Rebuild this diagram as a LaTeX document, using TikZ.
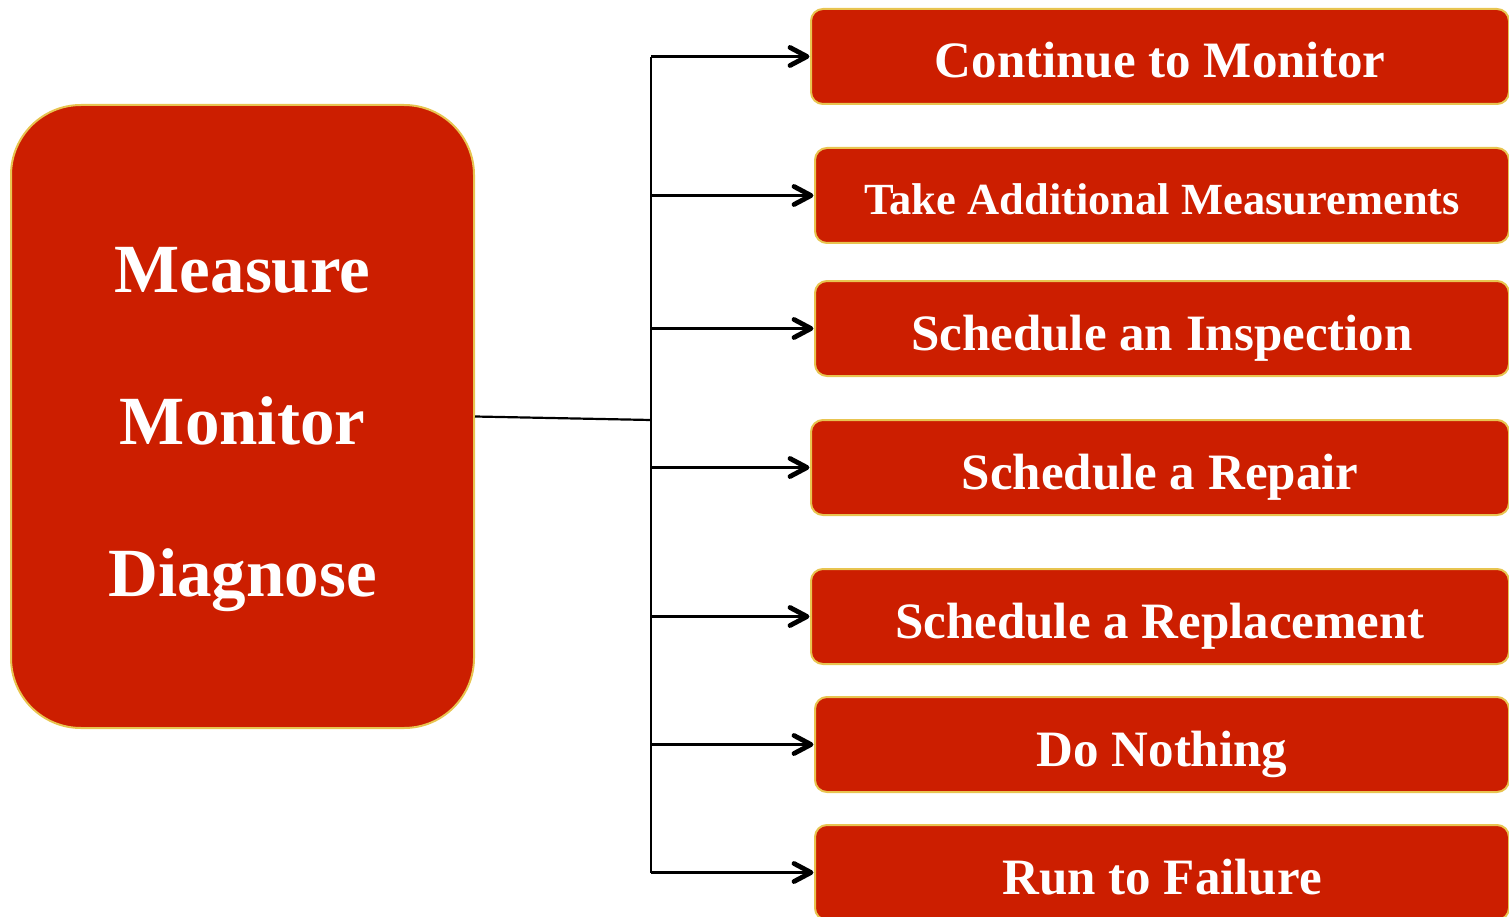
\documentclass[tikz,border=0pt]{standalone}
\usepackage{fontspec}
\setmainfont{Liberation Serif}
\definecolor{boxred}{RGB}{204,30,0}
\definecolor{boxgold}{RGB}{232,196,80}
\begin{document}
\begin{tikzpicture}[x=1pt,y=-1pt,
  box/.style={draw=boxgold, line width=2pt, fill=boxred, rounded corners=12pt, text=white,
    font=\bfseries\fontsize{51}{56}\selectfont, inner sep=0pt, minimum height=95pt,
    text height=48pt, text depth=5pt},
  conn/.style={line width=2.2pt},
  chev/.style={line width=4.8pt, line cap=round, line join=round}]
\useasboundingbox (0,0) rectangle (1509,917);
\clip (0,0) rectangle (1509,917);
\node[draw=boxgold, line width=2pt, fill=boxred, rounded corners=70pt,
  minimum width=463pt, minimum height=623pt, inner sep=0pt] (main) at (242.5,416.5) {};
\node[text=white, align=center, inner sep=0pt,
  font=\bfseries\fontsize{69}{152}\selectfont] (mtext) at ([yshift=-13pt]main.center)
  {Measure\\Monitor\\Diagnose};
\node[box, minimum width=698pt] (b1) at (1160,56.5) {Continue to Monitor};
\node[box, minimum width=694pt, font=\bfseries\fontsize{44.5}{50}\selectfont, text height=44pt] (b2) at (1162,195.5) {Take Additional Measurements};
\node[box, minimum width=694pt] (b3) at (1162,328.5) {Schedule an Inspection};
\node[box, minimum width=698pt] (b4) at (1160,467.5) {Schedule a Repair};
\node[box, minimum width=698pt] (b5) at (1160,616.5) {Schedule a Replacement};
\node[box, minimum width=694pt] (b6) at (1162,744.5) {Do Nothing};
\node[box, minimum width=694pt] (b7) at (1162,872.5) {Run to Failure};
\coordinate (top) at (651,57);
\coordinate (bot) at (651,873);
\coordinate (junc) at (651,420);
\draw[conn] (top) -- (bot);
\draw[conn] (main.east) -- (junc);
\foreach \b in {b1,b2,b3,b4,b5,b6,b7}{
  \draw[conn] (\b.west -| top) -- ([xshift=-4pt]\b.west);
  \draw[chev] ([shift={(-20pt,9pt)}]\b.west) -- ([xshift=-3pt]\b.west) -- ([shift={(-20pt,-9pt)}]\b.west);
}
\end{tikzpicture}
\end{document}
